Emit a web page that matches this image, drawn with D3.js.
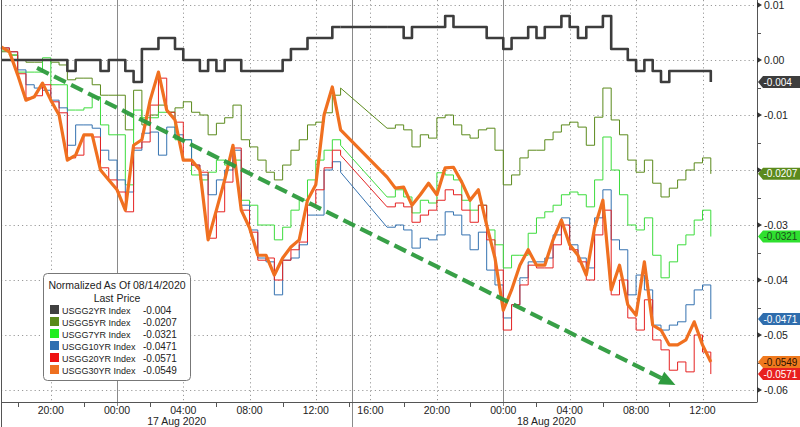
<!DOCTYPE html>
<html><head><meta charset="utf-8">
<script src="https://cdn.jsdelivr.net/npm/d3@7"></script>
<style>
body{margin:0;background:#fff}
svg{display:block}
text{font-family:"Liberation Sans",Arial,sans-serif;fill:#222}
</style>
</head><body>
<svg id="chart" width="800" height="427"></svg>
<script>
// ---- data (hours relative to 17 Aug 2020 00:00) ----
const hours = [-7,-6.5,-6,-5.5,-5,-4.5,-4,-3.5,-3,-2.5,-2,-1.5,-1,-0.5,0,0.5,1,1.5,2,2.5,3,3.5,4,4.5,5,5.5,6,6.5,7,7.5,8,8.5,9,9.5,10,10.5,11,11.5,12,12.5,13,13.5,
  17,17.5,18,18.5,19,19.5,20,20.5,21,21.5,22,22.5,23,23.5,24,24.5,25,25.5,26,26.5,27,27.5,28,28.5,29,29.5,30,30.5,31,31.5,32,32.5,33,33.5,34,34.5,35,35.5,36,36.5];

const usgg2 = [0,0,0,0,0,0,0,0,-0.002,0,0,0,-0.002,0,0,-0.002,-0.004,0.002,0.002,0.004,0.004,0.002,0,0,-0.002,0,-0.002,0,0,-0.002,-0.002,-0.002,-0.002,-0.002,0,0.002,0.002,0.004,0.004,0.004,0.006,0.006,
  0.006,0.006,0.004,0.006,0.006,0.006,0.006,0.008,0.006,0.006,0.006,0.006,0.004,0.004,0.002,0.004,0.004,0.006,0.004,0.006,0.006,0.008,0.006,0.004,0.006,0.006,0.008,0.002,0.002,0,-0.002,0,-0.002,-0.004,-0.002,-0.002,-0.002,-0.002,-0.002,-0.004];

const usgg5 = [0.0015,0.0009,0,-0.0004,-0.0004,0,-0.0004,-0.0009,-0.0036,-0.0033,-0.0033,-0.0045,-0.0064,-0.0064,-0.0064,-0.0127,-0.0055,-0.0118,-0.0100,-0.0082,-0.0095,-0.0087,-0.0076,-0.0095,-0.0100,-0.0136,-0.0115,-0.0105,-0.0082,-0.0145,-0.0158,-0.0182,-0.0204,-0.0218,-0.0191,-0.0164,-0.0145,-0.0118,-0.0113,-0.0096,-0.0064,-0.0051,
  -0.0124,-0.0118,-0.0127,-0.0158,-0.0136,-0.0142,-0.0105,-0.0100,-0.0118,-0.0136,-0.0142,-0.0127,-0.0124,-0.0164,-0.0227,-0.0209,-0.0178,-0.0164,-0.0164,-0.0145,-0.0131,-0.0118,-0.0113,-0.0122,-0.0155,-0.0104,-0.0051,-0.0109,-0.0136,-0.0182,-0.0204,-0.0182,-0.0224,-0.0249,-0.0233,-0.0218,-0.0200,-0.0187,-0.0178,-0.0207];

const usgg7 = [0.0018,0.0009,-0.0022,-0.0022,-0.0022,0.0004,-0.0045,-0.0045,-0.0091,-0.0091,-0.0087,-0.0067,-0.0118,-0.0136,-0.0136,-0.0227,-0.0091,-0.0105,-0.0105,-0.0095,-0.0095,-0.0145,-0.0145,-0.0209,-0.0218,-0.0204,-0.0182,-0.0191,-0.0182,-0.0255,-0.0264,-0.0300,-0.0300,-0.0327,-0.0304,-0.0273,-0.0255,-0.0218,-0.0182,-0.0164,-0.0145,-0.0155,
  -0.0249,-0.0236,-0.0249,-0.0278,-0.0255,-0.0260,-0.0205,-0.0209,-0.0218,-0.0255,-0.0273,-0.0264,-0.0309,-0.0336,-0.0378,-0.0355,-0.0355,-0.0315,-0.0287,-0.0276,-0.0264,-0.0245,-0.0240,-0.0245,-0.0267,-0.0218,-0.0140,-0.0200,-0.0245,-0.0300,-0.0309,-0.0287,-0.0355,-0.0396,-0.0367,-0.0336,-0.0318,-0.0291,-0.0273,-0.0321];

const usgg10 = [0.0022,0.0015,-0.0018,-0.0045,-0.0051,-0.0055,-0.0073,-0.0087,-0.0155,-0.0118,-0.0118,-0.0124,-0.0164,-0.0182,-0.0218,-0.0240,-0.0164,-0.0133,-0.0131,-0.0173,-0.0122,-0.0136,-0.0145,-0.0191,-0.0209,-0.0245,-0.0218,-0.0200,-0.0164,-0.0264,-0.0309,-0.0360,-0.0367,-0.0427,-0.0364,-0.0360,-0.0336,-0.0282,-0.0282,-0.0200,-0.0185,-0.0204,
  -0.0304,-0.0300,-0.0309,-0.0342,-0.0324,-0.0327,-0.0318,-0.0276,-0.0282,-0.0318,-0.0345,-0.0313,-0.0382,-0.0409,-0.0469,-0.0445,-0.0396,-0.0367,-0.0367,-0.0360,-0.0318,-0.0287,-0.0336,-0.0360,-0.0378,-0.0287,-0.0236,-0.0327,-0.0345,-0.0427,-0.0391,-0.0418,-0.0482,-0.0491,-0.0482,-0.0476,-0.0445,-0.0418,-0.0409,-0.0471];

const usgg20 = [0.0022,0.0015,-0.0025,-0.0069,-0.0065,-0.0045,-0.0076,-0.0096,-0.0178,-0.0173,-0.0136,-0.0140,-0.0196,-0.0218,-0.0240,-0.0276,-0.0160,-0.0149,-0.0082,-0.0033,-0.0095,-0.0113,-0.0182,-0.0191,-0.0204,-0.0324,-0.0276,-0.0222,-0.0160,-0.0273,-0.0313,-0.0364,-0.0360,-0.0400,-0.0364,-0.0345,-0.0331,-0.0264,-0.0236,-0.0196,-0.0164,-0.0173,
  -0.0267,-0.0260,-0.0267,-0.0295,-0.0282,-0.0273,-0.0255,-0.0236,-0.0245,-0.0273,-0.0295,-0.0264,-0.0327,-0.0382,-0.0491,-0.0445,-0.0409,-0.0373,-0.0378,-0.0378,-0.0336,-0.0300,-0.0345,-0.0367,-0.0400,-0.0318,-0.0273,-0.0427,-0.0400,-0.0469,-0.0491,-0.0436,-0.0509,-0.0527,-0.0564,-0.0549,-0.0567,-0.0500,-0.0531,-0.0571];

const usgg30 = [0.0024,0.0015,-0.0027,-0.0073,-0.0067,-0.0042,-0.0073,-0.0100,-0.0182,-0.0173,-0.0136,-0.0136,-0.0200,-0.0218,-0.0236,-0.0273,-0.0155,-0.0145,-0.0073,-0.0022,-0.0091,-0.0109,-0.0182,-0.0182,-0.0200,-0.0327,-0.0273,-0.0218,-0.0155,-0.0273,-0.0305,-0.0355,-0.0355,-0.0391,-0.0360,-0.0340,-0.0327,-0.0255,-0.0227,-0.0100,-0.0049,-0.0127,
  -0.0213,-0.0233,-0.0231,-0.0264,-0.0245,-0.0224,-0.0245,-0.0196,-0.0195,-0.0222,-0.0255,-0.0236,-0.0300,-0.0360,-0.0455,-0.0418,-0.0373,-0.0345,-0.0373,-0.0373,-0.0327,-0.0291,-0.0336,-0.0355,-0.0391,-0.0305,-0.0255,-0.0418,-0.0373,-0.0445,-0.0464,-0.0367,-0.0482,-0.0491,-0.0518,-0.0518,-0.0509,-0.0476,-0.0518,-0.0549];

const seriesNames = ["USGG2YR Index","USGG5YR Index","USGG7YR Index","USGG10YR Index","USGG20YR Index","USGG30YR Index"];
const lastValues = [-0.004,-0.0207,-0.0321,-0.0471,-0.0571,-0.0549];
const lastLabels = ["-0.004","-0.0207","-0.0321","-0.0471","-0.0571","-0.0549"];
const yTicks = [0.01,0,-0.01,-0.02,-0.03,-0.04,-0.05,-0.06];
const yTickLabels = ["0.01","0.00","-0.01","-0.02","-0.03","-0.04","-0.05","-0.06"];
const labelHours = [-4,0,4,8,12,16,20,24,28,32,36];
const minorHours = [-6,-2,2,6,10,14,18,22,26,30,34];
const dayHours = [0,24];
const dayLabels = ["17 Aug 2020","18 Aug 2020"];
const dayLabelHours = [3.6,26.6];
const breakHour = 14.2;
const gapIndex = 42;            // first sample after the data gap
const trendHours = [-4.83,34.37];
const trendValues = [-0.00145,-0.0591];

// ---- styles ----
const colors = ["#3d3d3d","#5b8a1c","#3ddc3d","#3572b0","#e52222","#f07020"];
const widths = [2.6,1,1,1,1,3.2];
const stepped = [true,true,true,true,true,false];
const tagFill = ["#3d3d3d","#5b8a1c","#2fe02f","#2f6dad","#e8201e","#f07a1e"];
const tagText = ["#fff","#fff","#1c4f1c","#fff","#fff","#2a1200"];
const legendSwatch = ["#404040","#5a8a1a","#22ee22","#2e6eb0","#ee1111","#ee7020"];
const drawOrder = [1,2,3,4,0,5];

const svg = d3.select("#chart");
const W = 800, H = 427, plotL = 1, plotR = 757, plotT = 0, plotB = 402;
const t0 = Date.UTC(2020,7,17);
const toDate = h => new Date(t0 + h*3600000);

const x = d3.scaleUtc()
  .domain([-4,14.2,14.9,36].map(toDate))
  .range([50.8,352.2,352.2,702.5]);
const y = d3.scaleLinear().domain([0.01091,-0.06218]).range([plotT,plotB]);

svg.append("rect").attr("width",W).attr("height",H).attr("fill","#fff");

// grid
const grid = svg.append("g");
yTicks.forEach(v=>{
  grid.append("line").attr("x1",plotL).attr("x2",plotR).attr("y1",Math.round(y(v))+0.5).attr("y2",Math.round(y(v))+0.5)
    .attr("stroke","#9a9a9a").attr("stroke-width",1).attr("stroke-dasharray","1.2,3");
});
labelHours.filter(h=>dayHours.indexOf(h)<0).forEach(h=>{
  const xx = Math.round(x(toDate(h)))+0.5;
  grid.append("line").attr("x1",xx).attr("x2",xx).attr("y1",plotT).attr("y2",plotB)
    .attr("stroke","#9a9a9a").attr("stroke-width",1).attr("stroke-dasharray","1.2,3");
});
dayHours.forEach(h=>{
  const xx = Math.round(x(toDate(h)))+0.5;
  grid.append("line").attr("x1",xx).attr("x2",xx).attr("y1",plotT).attr("y2",plotB+4)
    .attr("stroke","#8a8a8a").attr("stroke-width",1);
});
{
  const xx = Math.round(x(toDate(breakHour)))+0.5;
  grid.append("line").attr("x1",xx).attr("x2",xx).attr("y1",plotT).attr("y2",H)
    .attr("stroke","#8a8a8a").attr("stroke-width",1);
}

// series (thin tick series drawn as steps, straight join across the data gap)
const allSeries = [usgg2,usgg5,usgg7,usgg10,usgg20,usgg30];
const px = i => x(toDate(hours[i]));
const lineLin = d3.line().x(d=>px(d.i)).y(d=>y(d.v));
const lineStep = d3.line().x(d=>px(d.i)).y(d=>y(d.v)).curve(d3.curveStepAfter);
drawOrder.forEach(k=>{
  const pts = allSeries[k].map((v,i)=>({i,v}));
  const g = svg.append("g").attr("fill","none").attr("stroke",colors[k]).attr("stroke-width",widths[k])
    .attr("stroke-linejoin","round");
  if (!stepped[k]) {
    g.append("path").attr("d", lineLin(pts));
  } else {
    const a = pts.slice(0,gapIndex), b = pts.slice(gapIndex);
    g.append("path").attr("d", lineStep(a));
    g.append("path").attr("d", lineLin([a[a.length-1], b[0]]));
    g.append("path").attr("d", lineStep(b));
  }
});

// trend arrow
const tx = trendHours.map(h=>x(toDate(h))), ty = trendValues.map(v=>y(v));
const ang = Math.atan2(ty[1]-ty[0], tx[1]-tx[0]);
svg.append("line")
  .attr("x1",tx[0]).attr("y1",ty[0])
  .attr("x2",tx[1]-12*Math.cos(ang)).attr("y2",ty[1]-12*Math.sin(ang))
  .attr("stroke","#2e9b3e").attr("stroke-width",4.2).attr("stroke-dasharray","13,6").attr("opacity",0.95);
svg.append("path")
  .attr("d",`M${tx[1]},${ty[1]} l${-16*Math.cos(ang)+7*Math.sin(ang)},${-16*Math.sin(ang)-7*Math.cos(ang)} l${-14*Math.sin(ang)},${14*Math.cos(ang)} Z`)
  .attr("fill","#2e9b3e");

// axes frame
svg.append("line").attr("x1",plotL+0.5).attr("x2",plotL+0.5).attr("y1",plotT).attr("y2",H).attr("stroke","#555");
svg.append("line").attr("x1",plotL).attr("x2",plotR).attr("y1",plotB+0.5).attr("y2",plotB+0.5).attr("stroke","#555");
svg.append("line").attr("x1",plotR+0.5).attr("x2",plotR+0.5).attr("y1",plotT).attr("y2",plotB+0.5).attr("stroke","#555");

// x ticks
minorHours.forEach(h=>{
  const xx = Math.round(x(toDate(h)))+0.5;
  svg.append("line").attr("x1",xx).attr("x2",xx).attr("y1",plotB).attr("y2",plotB+5).attr("stroke","#555");
});
const fmt = d3.utcFormat("%H:%M");
labelHours.forEach(h=>{
  svg.append("text").attr("x",x(toDate(h))).attr("y",414).attr("text-anchor","middle")
    .attr("font-size","10.5px").text(fmt(toDate(h)));
});
dayLabels.forEach((s,i)=>{
  svg.append("text").attr("x",x(toDate(dayLabelHours[i]))).attr("y",425).attr("text-anchor","middle")
    .attr("font-size","10.5px").text(s);
});

// y axis (right)
const tagYs = lastValues.map(v=>y(v));
yTicks.forEach((v,i)=>{
  const yy = y(v);
  svg.append("path").attr("d",`M${plotR},${yy-3} L${plotR+5},${yy} L${plotR},${yy+3} Z`).attr("fill","#333");
  if (i<yTicks.length-1){
    const ym = Math.round(y(v-0.005))+0.5;
    svg.append("line").attr("x1",plotR).attr("x2",plotR+4).attr("y1",ym).attr("y2",ym).attr("stroke","#555");
  }
  const hidden = tagYs.some(t=>Math.abs(t-yy)<9);
  if(!hidden){
    svg.append("text").attr("x",764).attr("y",yy).attr("dy","0.36em").attr("font-size","10.5px").text(yTickLabels[i]);
  }
});

// last value tags
lastValues.forEach((v,k)=>{
  const yy = y(v);
  svg.append("path").attr("d",`M${plotR+1},${yy} L${plotR+6},${yy-6} L800,${yy-6} L800,${yy+6} L${plotR+6},${yy+6} Z`)
    .attr("fill",tagFill[k]);
  svg.append("text").attr("x",763.5).attr("y",yy).attr("dy","0.36em").attr("font-size","10px")
    .style("fill",tagText[k]).text(lastLabels[k]);
});

// legend
const lg = svg.append("g").attr("transform","translate(43,273)");
lg.append("rect").attr("x",0.5).attr("y",0.5).attr("width",147).attr("height",107).attr("rx",4)
  .attr("fill","#fff").attr("stroke","#777");
lg.append("text").attr("x",74).attr("y",16).attr("text-anchor","middle").attr("font-size","10.5px").text("Normalized As Of 08/14/2020");
lg.append("text").attr("x",74).attr("y",28.5).attr("text-anchor","middle").attr("font-size","10.5px").text("Last Price");
seriesNames.forEach((s,i)=>{
  const yy = 32 + i*12;
  lg.append("rect").attr("x",7).attr("y",yy).attr("width",9).attr("height",9).attr("fill",legendSwatch[i]);
  lg.append("text").attr("x",19).attr("y",yy+8.5).attr("font-size","9px").text(s);
  lg.append("text").attr("x",100).attr("y",yy+8.5).attr("font-size","10px").text(lastLabels[i]);
});
</script>
</body></html>
